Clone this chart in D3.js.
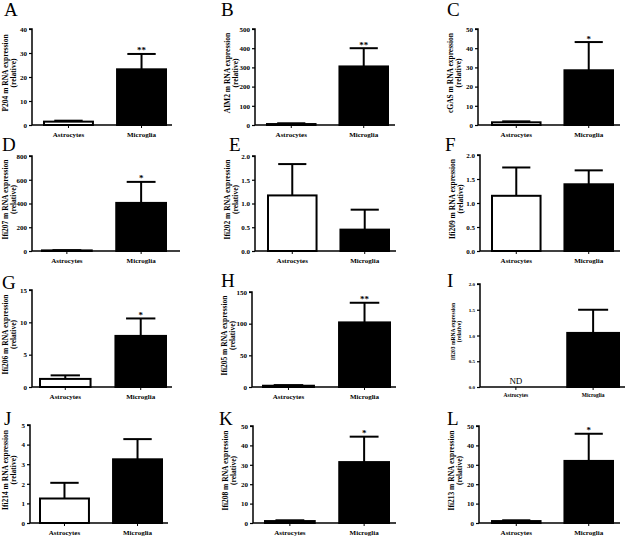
<!DOCTYPE html>
<html><head><meta charset="utf-8">
<script src="https://cdn.jsdelivr.net/npm/d3@7"></script>
<style>html,body{margin:0;padding:0;background:#fff}svg{display:block}</style>
</head><body>
<svg id="c" width="631" height="536"></svg>
<script>
// ---- data ----
const panelLetters = ["A","B","C","D","E","F","G","H","I","J","K","L"];
const categories = ["Astrocytes","Microglia"];
const yLabels = [
  "P204 m RNA expression","AIM2 m RNA expression","cGAS m RNA expression",
  "Ifi207 m RNA expression","Ifi202 m RNA expression","Ifi209 m RNA expression",
  "Ifi206 m RNA expression","Ifi205 m RNA expression","Ifi203 mRNA expression",
  "Ifi214 m RNA expression","Ifi208 m RNA expression","Ifi213 m RNA expression"];
const yLabel2 = "(relative)";
const yMax   = [40, 500, 50, 800, 2, 2, 15, 150, 2, 5, 50, 50];
const yStep  = [10, 100, 10, 200, 0.5, 0.5, 5, 50, 0.5, 1, 10, 10];
const astroMean = [1.4, 5, 1.4, 5, 1.17, 1.15, 1.25, 2, null, 1.25, 1.0, 1.0];
const astroErr  = [1.8, 9, 1.9, 7, 1.83, 1.74, 1.8, 3, null, 2.05, 1.4, 1.4];
const microMean = [23.2, 305, 28.5, 405, 0.45, 1.39, 7.9, 102, 1.05, 3.25, 31.4, 32];
const microErr  = [29.6, 400, 43.2, 582, 0.87, 1.68, 10.6, 133, 1.50, 4.28, 44.5, 46];
const significance = ["**","**","*","*","","","*","**","","","*","*"];
const notDetected = ["","","","","","","","","ND","","",""];

// ---- layout (pixel geometry per panel) ----
const layout = [
  {ax:32, top:29, zero:125, x0:44, x1:166, xEnd:172, lx:4, ly:16},
  {ax:255, top:29, zero:125, x0:267, x1:388, xEnd:395, lx:221, ly:16},
  {ax:478, top:29, zero:125, x0:492, x1:613, xEnd:620, lx:447, ly:16},
  {ax:32, top:156, zero:251, x0:42, x1:166, xEnd:180, lx:2, ly:151},
  {ax:255, top:156, zero:251, x0:268, x1:389, xEnd:396, lx:229, ly:151},
  {ax:480, top:155, zero:251, x0:492, x1:613, xEnd:620, lx:445, ly:151},
  {ax:32, top:290, zero:387, x0:40, x1:166, xEnd:172, lx:2, ly:289},
  {ax:252, top:292, zero:387, x0:263, x1:390, xEnd:396, lx:221, ly:287},
  {ax:480, top:284, zero:387, x0:490, x1:619, xEnd:625, lx:447, ly:287, small:true},
  {ax:30, top:425, zero:523, x0:40, x1:162, xEnd:168, lx:4, ly:425},
  {ax:253, top:426, zero:523, x0:265, x1:389, xEnd:396, lx:219, ly:425},
  {ax:479, top:426, zero:523, x0:492, x1:613, xEnd:620, lx:447, ly:425}
];

const svg = d3.select("#c");
const FONT = "'Liberation Serif','Times New Roman',serif";

panelLetters.forEach((letter, i) => {
  const L = layout[i];
  const g = svg.append("g");
  const y = d3.scaleLinear().domain([0, yMax[i]]).range([L.zero, L.top]);
  const x = d3.scaleBand().domain(categories).range([L.x0, L.x1]).paddingInner(0.33).paddingOuter(0);
  const tickFs = L.small ? 5 : 7;
  const labFs = L.small ? 5.5 : 7.5;

  // panel letter
  g.append("text").attr("x", L.lx).attr("y", L.ly)
    .attr("font-family", FONT).attr("font-size", 19).text(letter);

  // y axis
  const ticks = d3.range(0, yMax[i] + yStep[i] / 2, yStep[i]);
  const yAxis = d3.axisLeft(y).tickValues(ticks).tickSize(3).tickPadding(2)
    .tickFormat(yStep[i] < 1 ? d3.format(".1f") : d3.format("d"));
  const ya = g.append("g").attr("transform", `translate(${L.ax},0)`).call(yAxis);
  ya.select(".domain").attr("stroke-width", 1.5).attr("d", `M-3,${L.top}H0V${L.zero}`);
  ya.selectAll(".tick line").attr("stroke-width", 1.2);
  ya.selectAll("text").attr("font-family", FONT).attr("font-size", tickFs).attr("font-weight", "bold");

  // x axis
  const xa = g.append("g").attr("transform", `translate(0,${L.zero})`)
    .call(d3.axisBottom(x).tickSize(3).tickPadding(L.small ? 3 : 4));
  xa.select(".domain").attr("stroke-width", 1.5).attr("d", `M${L.ax},0H${L.xEnd}`);
  xa.selectAll(".tick line").attr("stroke-width", 1);
  xa.selectAll("text").attr("font-family", FONT).attr("font-size", L.small ? 5.5 : 7).attr("font-weight", "bold");

  // y label
  const cy = (L.top + L.zero) / 2 - 4;
  const lx1 = Math.max(L.ax - 25, 8);
  const lx2 = lx1 + (L.small ? 6 : 8);
  g.append("text").attr("transform", `translate(${lx1},${cy}) rotate(-90)`)
    .attr("text-anchor", "middle").attr("font-family", FONT).attr("font-size", labFs)
    .attr("font-weight", "bold").text(yLabels[i]);
  g.append("text").attr("transform", `translate(${lx2},${cy}) rotate(-90)`)
    .attr("text-anchor", "middle").attr("font-family", FONT).attr("font-size", labFs)
    .attr("font-weight", "bold").text(yLabel2);

  // bars
  const bars = [
    {cat: categories[0], m: astroMean[i], e: astroErr[i], fill: "#fff"},
    {cat: categories[1], m: microMean[i], e: microErr[i], fill: "#000"}
  ].filter(d => d.m != null);

  bars.forEach(d => {
    const bx = x(d.cat), bw = x.bandwidth(), cx = bx + bw / 2;
    const capW = bw * 0.58;
    g.append("line").attr("x1", cx).attr("x2", cx).attr("y1", y(d.m)).attr("y2", y(d.e))
      .attr("stroke", "#000").attr("stroke-width", 2);
    g.append("line").attr("x1", cx - capW / 2).attr("x2", cx + capW / 2).attr("y1", y(d.e)).attr("y2", y(d.e))
      .attr("stroke", "#000").attr("stroke-width", 2);
    g.append("rect").attr("x", bx).attr("width", bw)
      .attr("y", y(d.m)).attr("height", Math.max(0.5, y(0) - y(d.m)))
      .attr("fill", d.fill).attr("stroke", "#000").attr("stroke-width", 2);
  });

  // significance
  if (significance[i]) {
    const cx = x(categories[1]) + x.bandwidth() / 2;
    g.append("text").attr("x", cx).attr("y", y(microErr[i]) - 0.5).attr("text-anchor", "middle")
      .attr("font-family", FONT).attr("font-size", 9).attr("font-weight", "bold").text(significance[i]);
  }
  if (notDetected[i]) {
    const cx = x(categories[0]) + x.bandwidth() / 2;
    g.append("text").attr("x", cx).attr("y", L.zero - 3).attr("text-anchor", "middle")
      .attr("font-family", FONT).attr("font-size", 9).text(notDetected[i]);
  }
});
</script>
</body></html>
